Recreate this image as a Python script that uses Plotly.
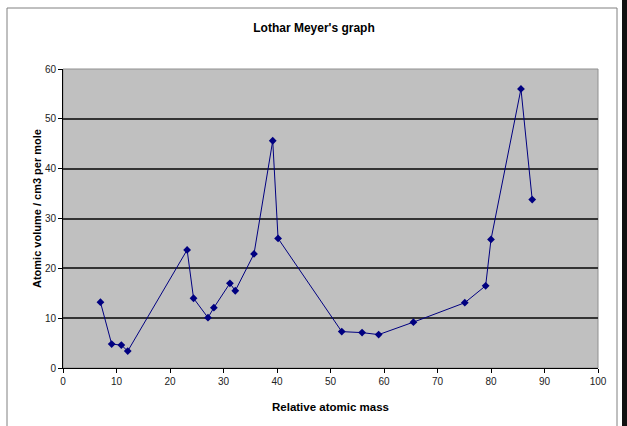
import plotly.graph_objects as go

# Data
atomic_mass = [7.0, 9.1, 10.9, 12.1, 23.2, 24.4, 27.1, 28.2, 31.2, 32.2, 35.7,
               39.2, 40.2, 52.1, 55.9, 59.0, 65.5, 75.1, 79.0, 80.0, 85.6, 87.7]
atomic_volume = [13.2, 4.8, 4.6, 3.4, 23.7, 14.0, 10.1, 12.1, 17.0, 15.5, 22.9,
                 45.6, 26.0, 7.3, 7.1, 6.7, 9.2, 13.1, 16.5, 25.8, 56.0, 33.8]
x_ticks = [0, 10, 20, 30, 40, 50, 60, 70, 80, 90, 100]
y_ticks = [0, 10, 20, 30, 40, 50, 60]

W, H = 627, 426
L, R, T, B = 63, 29, 69, 58
pw, ph = W - L - R, H - T - B

def px(xp):
    return (xp - L) / pw

def py(yp):
    return (H - B - yp) / ph

fig = go.Figure()
fig.add_trace(go.Scatter(
    x=atomic_mass, y=atomic_volume, mode="lines+markers",
    line=dict(color="#000080", width=1),
    marker=dict(symbol="diamond", size=6, color="#000080"),
    showlegend=False, hoverinfo="x+y",
))

font = "Arial, Liberation Sans, sans-serif"
fig.update_layout(
    width=W, height=H,
    margin=dict(l=L, r=R, t=T, b=B),
    paper_bgcolor="white",
    plot_bgcolor="#C0C0C0",
    font=dict(family=font, size=10, color="#000000"),
    title=dict(text="<b>Lothar Meyer's graph</b>", x=(314) / W, xanchor="center",
               y=1 - 28 / H, yanchor="middle", yref="container",
               font=dict(size=12, family=font, color="#000000")),
    xaxis=dict(range=[0, 100], tickvals=x_ticks, ticks="outside", ticklen=4,
               tickcolor="black", showline=True, linecolor="black", linewidth=1,
               showgrid=False, zeroline=False, mirror=False,
               tickfont=dict(size=10, family=font, color="#222222")),
    yaxis=dict(range=[0, 60], tickvals=y_ticks, ticks="outside", ticklen=4,
               tickcolor="black", showline=True, linecolor="black", linewidth=1,
               showgrid=True, gridcolor="#333333", gridwidth=1.5, zeroline=False,
               tickfont=dict(size=10, family=font, color="#222222")),
    annotations=[
        dict(text="<b>Relative atomic mass</b>", xref="paper", yref="paper",
             x=px(330), y=py(407), xanchor="center", yanchor="middle",
             showarrow=False, font=dict(size=11.5, family=font, color="black")),
        dict(text="<b>Atomic volume / cm3 per mole</b>", xref="paper", yref="paper",
             x=px(37), y=py(209), xanchor="center", yanchor="middle", textangle=-90,
             showarrow=False, font=dict(size=11, family=font, color="black")),
    ],
    shapes=[
        # outer chart frame
        dict(type="rect", xref="paper", yref="paper",
             x0=px(7), x1=px(617), y0=py(440), y1=py(8),
             line=dict(color="#808080", width=1), fillcolor="rgba(0,0,0,0)", layer="below"),
        # plot-area border
        dict(type="rect", xref="paper", yref="paper", x0=0, x1=1, y0=0, y1=1,
             line=dict(color="#909090", width=1), fillcolor="rgba(0,0,0,0)", layer="below"),
        # dark bar at the right edge
        dict(type="rect", xref="paper", yref="paper",
             x0=px(622), x1=px(628), y0=py(430), y1=py(-2),
             line=dict(width=0), fillcolor="#111111"),
    ],
)

fig.write_html("out.html", config={"displayModeBar": False},
               post_script="document.body.style.margin='0px';document.body.style.overflow='hidden';")
